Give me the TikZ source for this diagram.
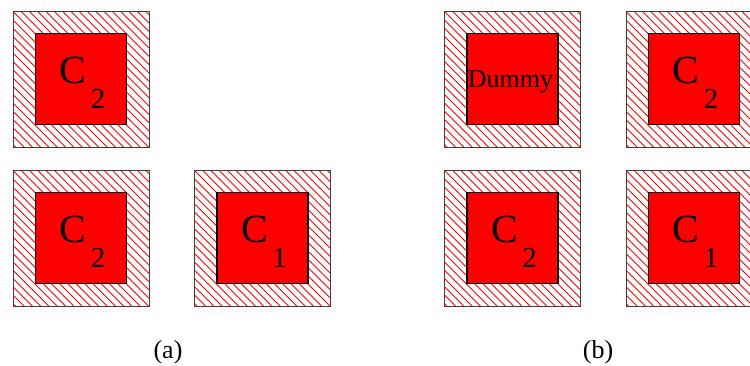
\documentclass[tikz,border=0pt]{standalone}
\usepackage{fontspec}
\setmainfont{Liberation Serif}
\newcommand\Csub[1]{{\fontsize{40}{40}\selectfont C}\kern4.5pt\raisebox{-25pt}{\fontsize{29}{29}\selectfont #1}}
\begin{document}
\begin{tikzpicture}[x=1pt,y=-1pt,
  outerbox/.style={draw=black!75, line width=0.9pt, minimum size=136pt, inner sep=0pt,
    path picture={\foreach \i in {-150,-141.7,...,140}
      \draw[red, line width=0.9pt] ([xshift=\i pt]path picture bounding box.north west) -- ++(160,160);}},
  innerbox/.style={draw=black, line width=1.2pt, fill=red, minimum size=91pt, inner sep=0pt},
  clabel/.style={anchor=base, inner sep=0pt},
  dlabel/.style={anchor=base, inner sep=0pt, font=\fontsize{26}{26}\selectfont},
  caption/.style={anchor=base, inner sep=0pt, font=\fontsize{26}{26}\selectfont}]
\useasboundingbox (0,0) rectangle (750,365);
% (a)
\node[outerbox] (a1) at (81,79) {};
\node[innerbox] (a1i) at (a1) {};
\node[clabel] (a1t) at ([shift={(1.5,4)}]a1i.center) {\Csub{2}};
\node[outerbox] (a2) at (81,238) {};
\node[innerbox] (a2i) at (a2) {};
\node[clabel] (a2t) at ([shift={(1.5,4)}]a2i.center) {\Csub{2}};
\node[outerbox] (a3) at (262.5,238) {};
\node[innerbox] (a3i) at (a3) {};
\node[clabel] (a3t) at ([shift={(1.5,4)}]a3i.center) {\Csub{1}};
\node[caption] (capa) at (168,358) {(a)};
% (b)
\node[outerbox] (b1) at (512.5,79) {};
\node[innerbox] (b1i) at (b1) {};
\node[dlabel] (b1t) at ([shift={(-2,8)}]b1i.center) {Dummy};
\node[outerbox] (b2) at (694,79) {};
\node[innerbox] (b2i) at (b2) {};
\node[clabel] (b2t) at ([shift={(1.5,4)}]b2i.center) {\Csub{2}};
\node[outerbox] (b3) at (512.5,238) {};
\node[innerbox] (b3i) at (b3) {};
\node[clabel] (b3t) at ([shift={(1.5,4)}]b3i.center) {\Csub{2}};
\node[outerbox] (b4) at (694,238) {};
\node[innerbox] (b4i) at (b4) {};
\node[clabel] (b4t) at ([shift={(1.5,4)}]b4i.center) {\Csub{1}};
\node[caption] (capb) at (598,358) {(b)};
\end{tikzpicture}
\end{document}
